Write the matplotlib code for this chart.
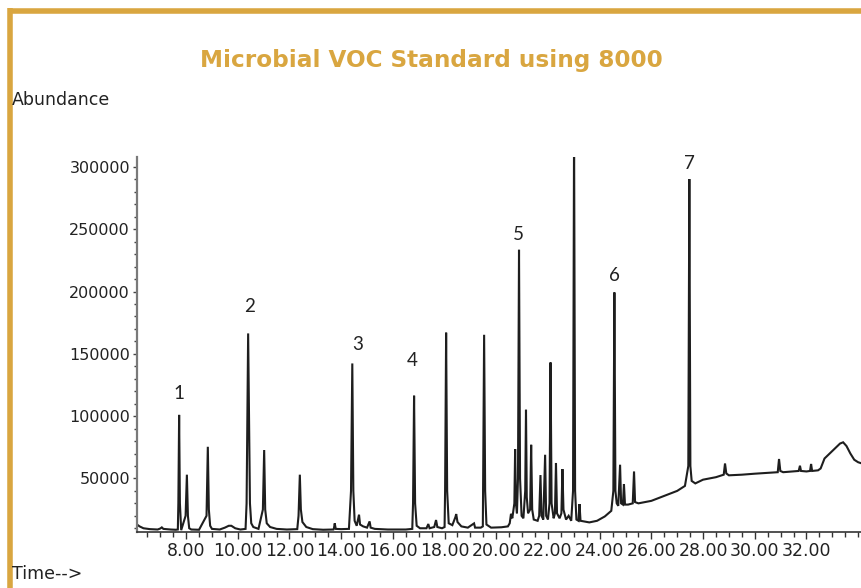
import matplotlib
matplotlib.use("Agg")
import matplotlib.pyplot as plt
from matplotlib.lines import Line2D

# ---- data (time in min, abundance) ----
time_min = [
    6.10, 6.20, 6.35, 6.60, 6.90, 7.00, 7.06, 7.12, 7.40, 7.60, 7.68,
    7.70, 7.73, 7.76, 7.81, 7.98, 8.03, 8.07, 8.12, 8.20, 8.50,
    8.79, 8.84, 8.88, 8.93, 9.00, 9.30, 9.50, 9.65, 9.75, 9.90, 10.10, 10.30,
    10.34, 10.38, 10.40, 10.43, 10.47, 10.52, 10.60, 10.80,
    10.97, 11.02, 11.06, 11.12, 11.25, 11.50, 11.90, 12.30,
    12.35, 12.40, 12.44, 12.50, 12.65, 12.90, 13.30, 13.70,
    13.72, 13.75, 13.79, 14.00, 14.30,
    14.38, 14.43, 14.47, 14.52, 14.60, 14.69, 14.73, 14.85, 15.00, 15.10, 15.14,
    15.30, 15.80, 16.50, 16.75,
    16.78, 16.82, 16.86, 16.92, 17.05, 17.30, 17.37, 17.42, 17.60, 17.67, 17.72,
    17.90, 18.00,
    18.02, 18.06, 18.10, 18.16, 18.30, 18.42, 18.45, 18.50, 18.65, 18.90, 19.14,
    19.18, 19.40, 19.48,
    19.49, 19.53, 19.57, 19.62, 19.80, 20.20, 20.45, 20.52, 20.57, 20.62,
    20.70, 20.73, 20.76, 20.80,
    20.84, 20.88, 20.92, 20.98, 21.05,
    21.12, 21.15, 21.18, 21.23, 21.31, 21.35, 21.39, 21.45, 21.60, 21.66, 21.71,
    21.75, 21.82, 21.89, 21.93, 22.00, 22.06, 22.10, 22.14, 22.22, 22.27, 22.31,
    22.35, 22.45, 22.52, 22.56, 22.60, 22.70, 22.80, 22.90,
    22.97, 23.01, 23.05, 23.10, 23.18, 23.22, 23.26, 23.40, 23.60, 23.90, 24.20,
    24.45, 24.53,
    24.57, 24.61, 24.66, 24.72, 24.79, 24.83, 24.90, 24.94, 24.98, 25.10, 25.28,
    25.33, 25.37, 25.50, 26.00, 26.50, 27.00, 27.30,
    27.43, 27.47, 27.51, 27.56, 27.70, 28.00, 28.50,
    28.80, 28.85, 28.90, 29.00, 29.50, 30.00, 30.50,
    30.89, 30.94, 30.99, 31.10, 31.40, 31.70, 31.75, 31.79, 32.00, 32.14, 32.18,
    32.22, 32.45,
    32.55, 32.70, 32.90, 33.10, 33.30, 33.42, 33.55, 33.70, 33.85, 34.00, 34.15,
]
abundance = [
    13000, 11500, 10000, 9300, 9000, 9800, 10700, 9500, 9000, 8800, 9000,
    30000, 101000, 30000, 8500, 20000, 53000, 20000, 10000, 9000, 8800,
    20000, 75400, 25000, 12000, 9500, 9000, 10500, 12000, 12000, 10000, 9000, 9500,
    30000, 120000, 166400, 110000, 30000, 14000, 11000, 9500,
    25000, 72800, 25000, 14000, 11000, 9500, 9000, 9300,
    20000, 53000, 25000, 15000, 11000, 9300, 8800, 9000,
    10000, 13900, 9500, 9300, 9500,
    40000, 142300, 40000, 16000, 12000, 20900, 13000, 11500, 10500, 15500, 10500,
    9500, 9000, 9000, 9500,
    30000, 116400, 30000, 12000, 10000, 10000, 13400, 10000, 11000, 16600, 11000,
    10000, 11000,
    40000, 167000, 40000, 14000, 12500, 19000, 21400, 15000, 11500, 10500, 13900,
    10500, 10500, 11500,
    40000, 165300, 40000, 13000, 10500, 10800, 11500, 14000, 21600, 18000,
    30000, 73600, 30000, 22000,
    50000, 233500, 50000, 20000, 18000,
    40000, 105100, 35000, 22000, 25000, 77000, 25000, 17000, 16000, 20000, 52700,
    20000, 17000, 69000, 20000, 17000, 30000, 143100, 30000, 18000, 22000, 62400,
    22000, 18000, 22000, 57500, 25000, 17000, 20000, 16000,
    40000, 330000, 40000, 17000, 16000, 29400, 16000, 15500, 14700, 16000, 19500,
    24000, 40000,
    199300, 40000, 30000, 28000, 61000, 30000, 29000, 45500, 29000, 29000, 30000,
    55600, 31000, 30000, 32000, 36000, 40000, 44000,
    60000, 290300, 60000, 48000, 46000, 49000, 51000,
    53000, 62000, 54000, 52500, 53000, 53800, 54500,
    55000, 65600, 56000, 55000, 55500, 56000, 60200, 56000, 55600, 56000, 61600,
    56000, 56500,
    58000, 66000, 70000, 74000, 78000, 79000, 76000, 70000, 65000, 63000, 62000,
]

peak_labels = ["1", "2", "3", "4", "5", "6", "7"]
label_time = [7.74, 10.44, 14.64, 16.73, 20.85, 24.56, 27.47]
label_abund = [118400, 188000, 157700, 144900, 245800, 213100, 303000]

y_ticks = [50000, 100000, 150000, 200000, 250000, 300000]
x_ticks = [8, 10, 12, 14, 16, 18, 20, 22, 24, 26, 28, 30, 32]
x_ticklabels = ["8.00", "10.00", "12.00", "14.00", "16.00", "18.00", "20.00",
                "22.00", "24.00", "26.00", "28.00", "30.00", "32.00"]

GOLD = "#D9A640"

fig = plt.figure(figsize=(8.62, 5.88), dpi=100)
ax = fig.add_axes([137 / 862, 1 - 532 / 588, 1 - 137 / 862, (532 - 157) / 588])

ax.plot(time_min, abundance, color="#1e1e1e", lw=1.5, solid_joinstyle="miter", clip_on=True)
ax.set_xlim(6.1, 34.15)
ax.set_ylim(7000, 308000)

for s in ["top", "right"]:
    ax.spines[s].set_visible(False)
ax.spines["left"].set_color("#7a7a7a")
ax.spines["left"].set_linewidth(1.6)
ax.spines["bottom"].set_color("#333333")
ax.spines["bottom"].set_linewidth(1.2)

ax.set_yticks(y_ticks)
ax.set_yticklabels([str(v) for v in y_ticks])
ax.set_yticks(range(10000, 308000, 10000), minor=True)
ax.set_xticks(x_ticks)
ax.set_xticklabels(x_ticklabels)
ax.set_xticks([6.5 + 0.5 * i for i in range(56)], minor=True)

ax.tick_params(axis="y", which="major", length=3, width=1, color="#444444",
               pad=2, labelsize=11.5, labelcolor="#222222")
ax.tick_params(axis="y", which="minor", length=2, width=1, color="#444444")
ax.tick_params(axis="x", which="major", length=5, width=1, color="#333333",
               pad=2.5, labelsize=12.5, labelcolor="#222222")
ax.tick_params(axis="x", which="minor", length=3.5, width=1, color="#333333")

for lab, t, v in zip(peak_labels, label_time, label_abund):
    ax.text(t, v, lab, ha="center", va="center", fontsize=13.5,
            family="Lato", color="#222222")

fig.text(431 / 862, 1 - 60 / 588, "Microbial VOC Standard using 8000",
         ha="center", va="center", fontsize=16.7, fontweight="bold",
         color=GOLD, family="DejaVu Sans")
fig.text(12 / 862, 1 - 100 / 588, "Abundance", ha="left", va="center",
         fontsize=12.5, color="#222222")
fig.text(12 / 862, 1 - 574 / 588, "Time-->", ha="left", va="center",
         fontsize=12.5, color="#222222")

# gold frame (top and left)
fig.add_artist(Line2D([10.5 / 862, 1], [1 - 10.5 / 588, 1 - 10.5 / 588],
                      transform=fig.transFigure, color=GOLD, lw=4, solid_capstyle="butt"))
fig.add_artist(Line2D([10.5 / 862, 10.5 / 862], [0, 1 - 8 / 588],
                      transform=fig.transFigure, color=GOLD, lw=4, solid_capstyle="butt"))

fig.savefig("out.png", dpi=100)
